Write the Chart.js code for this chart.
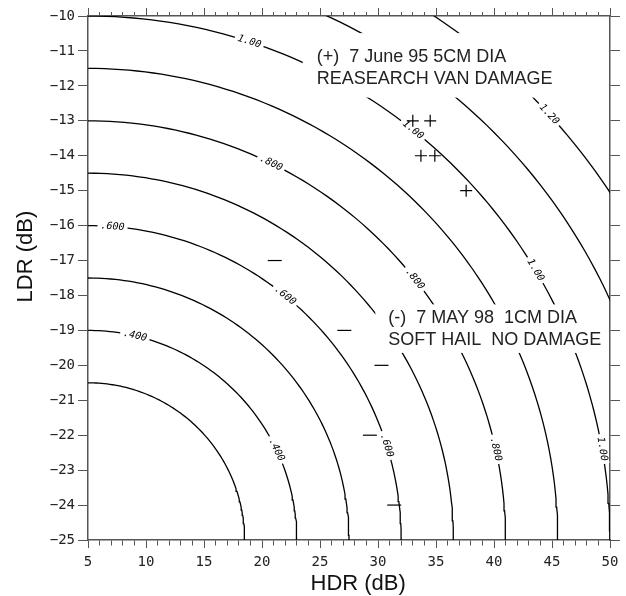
<!DOCTYPE html>
<html>
<head>
<meta charset="utf-8">
<script src="https://cdn.jsdelivr.net/npm/chart.js@4"></script>
<style>
  html, body { margin: 0; padding: 0; background: #fff; }
  #wrap { width: 626px; height: 596px; }
</style>
</head>
<body>
<div id="wrap"><canvas id="chart" width="626" height="596"></canvas></div>
<script>
// contour levels and where each one meets the bottom axis (LDR = -25) and the left axis (HDR = 5)
const levels = [0.3, 0.4, 0.5, 0.6, 0.7, 0.8, 0.9, 1.0, 1.1, 1.2];
const hdrIntercepts = [18.5, 23, 27.5, 32, 36.5, 41, 45.5, 50, 54.5, 59];
const ldrIntercepts = [-20.5, -19, -17.5, -16, -14.5, -13, -11.5, -10, -8.5, -7];
const originHdr = 5;
const originLdr = -25;

// inline contour labels: level and angle along the arc (0 = bottom axis, 90 = left axis)
const labelLevels = [0.4, 0.4, 0.6, 0.6, 0.6, 0.8, 0.8, 0.8, 1.0, 1.0, 1.0, 1.0, 1.2];
const labelAngles = [77, 25.5, 85.5, 51, 17.5, 64, 38.5, 12.5, 72, 51.5, 31, 10, 42.6];

// (+) 7 June 95, damaging hail
const plusHdr = [33, 34.5, 33.7, 34.9, 37.6];
const plusLdr = [-13, -13, -14, -14, -15];

// (-) 7 May 98, soft hail
const minusHdr = [21.1, 27.1, 30.3, 29.3, 31.4];
const minusLdr = [-17, -19, -20, -22, -24];

const plusNote = ['(+)  7 June 95 5CM DIA', 'REASEARCH VAN DAMAGE'];
const minusNote = ['(-)  7 MAY 98  1CM DIA', 'SOFT HAIL  NO DAMAGE'];

const tickFont = { family: '"DejaVu Sans Mono", monospace', size: 14 };
const titleFont = { family: '"Liberation Sans", Arial, sans-serif', size: 22, lineHeight: 1 };
const noteFont = '18px "Liberation Sans", Arial, sans-serif';
const axisGray = '#555';

function arcPoints(i) {
  const a = hdrIntercepts[i] - originHdr;
  const b = ldrIntercepts[i] - originLdr;
  const pts = [];
  for (let d = 0; d <= 90; d += 1) {
    const t = d * Math.PI / 180;
    pts.push({ x: originHdr + a * Math.cos(t), y: originLdr + b * Math.sin(t) });
  }
  return pts;
}

function labelText(v) {
  return v < 1 ? v.toFixed(3).slice(1) : v.toFixed(2);
}

const datasets = levels.map((lv, i) => ({
  label: String(lv),
  data: arcPoints(i),
  showLine: true,
  borderColor: '#000',
  borderWidth: 1.3,
  pointRadius: 0,
}));

datasets.push({
  label: 'minus',
  data: minusHdr.map((x, i) => ({ x, y: minusLdr[i] })),
  showLine: false,
  pointStyle: 'line',
  pointRadius: 7,
  borderColor: '#000',
  borderWidth: 1.2,
  order: -1,
});
datasets.push({
  label: 'plus',
  data: plusHdr.map((x, i) => ({ x, y: plusLdr[i] })),
  showLine: false,
  pointStyle: 'cross',
  pointRadius: 6,
  borderColor: '#000',
  borderWidth: 1.2,
  order: -1,
});

// text blocks: anchor in data units, white box padding in px [left, top, right, bottom]
const notes = [
  { lines: plusNote, hdr: 24.72, ldr: -11.32, pad: [14, 29, 8, 14] },
  { lines: minusNote, hdr: 30.89, ldr: -18.8, pad: [13, 19, 6, 8] },
];

const contourLabels = {
  id: 'contourLabels',
  afterDatasetDraw(chart, args) {
    if (args.index !== 0) return;
    const { ctx, scales } = chart;
    const xs = scales.x, ys = scales.y;
    ctx.save();

    // white boxes behind the two notes hide the contour lines there
    ctx.font = noteFont;
    ctx.fillStyle = '#fff';
    notes.forEach(n => {
      const x = xs.getPixelForValue(n.hdr);
      const y = ys.getPixelForValue(n.ldr);
      const w = Math.max(...n.lines.map(s => ctx.measureText(s).width));
      const h = (n.lines.length - 1) * 21.5;
      ctx.fillRect(x - n.pad[0], y - n.pad[1], w + n.pad[0] + n.pad[2], h + n.pad[1] + n.pad[3]);
    });

    ctx.font = 'italic 10px "DejaVu Sans Mono", monospace';
    ctx.textAlign = 'center';
    ctx.textBaseline = 'middle';
    labelLevels.forEach((lv, k) => {
      const i = levels.indexOf(lv);
      const a = hdrIntercepts[i] - originHdr;
      const b = ldrIntercepts[i] - originLdr;
      const at = deg => {
        const t = deg * Math.PI / 180;
        return [xs.getPixelForValue(originHdr + a * Math.cos(t)), ys.getPixelForValue(originLdr + b * Math.sin(t))];
      };
      const [px, py] = at(labelAngles[k]);
      const [x1, y1] = at(labelAngles[k] - 0.5);
      const [x2, y2] = at(labelAngles[k] + 0.5);
      let ang = Math.atan2(y2 - y1, x2 - x1);
      if (ang > Math.PI / 2) ang -= Math.PI;
      if (ang <= -Math.PI / 2) ang += Math.PI;
      const txt = labelText(lv);
      const w = ctx.measureText(txt).width + 6;
      ctx.save();
      ctx.translate(px, py);
      ctx.rotate(ang);
      ctx.fillStyle = '#fff';
      ctx.fillRect(-w / 2, -5, w, 10);
      ctx.fillStyle = '#000';
      ctx.fillText(txt, 0, 0);
      ctx.restore();
    });
    ctx.restore();
  },
  afterDraw(chart) {
    const { ctx, scales } = chart;
    ctx.save();
    ctx.font = noteFont;
    ctx.fillStyle = '#222';
    ctx.textAlign = 'left';
    ctx.textBaseline = 'alphabetic';
    notes.forEach(n => {
      const x = scales.x.getPixelForValue(n.hdr);
      const y = scales.y.getPixelForValue(n.ldr);
      n.lines.forEach((s, j) => ctx.fillText(s, x, y + j * 21.5));
    });
    ctx.restore();
  }
};

const minorDash = (len, top) => c => {
  if (c.tick && c.tick.value % 5 === 0) return [];
  return top ? [0, 8 - len, len, 30] : [len, 30];
};

new Chart(document.getElementById('chart'), {
  type: 'scatter',
  data: { datasets },
  options: {
    responsive: false,
    animation: false,
    devicePixelRatio: 1,
    layout: { padding: 0 },
    plugins: { legend: { display: false }, tooltip: { enabled: false } },
    scales: {
      x: {
        type: 'linear',
        position: 'bottom',
        min: 5,
        max: 50,
        afterFit: s => { s.height = 56; },
        border: { display: true, color: axisGray, width: 1.5 },
        grid: {
          drawOnChartArea: false,
          tickLength: 8,
          tickColor: axisGray,
          tickWidth: 1,
          tickBorderDash: minorDash(5, false),
        },
        ticks: {
          stepSize: 1,
          autoSkip: false,
          maxRotation: 0,
          padding: 6,
          color: '#222',
          font: tickFont,
          callback: v => (v % 5 === 0 ? String(v) : ''),
        },
        title: {
          display: true,
          text: '   HDR (dB)',
          color: '#111',
          font: titleFont,
          padding: { top: 0, bottom: 1 },
        },
      },
      x2: {
        type: 'linear',
        position: 'top',
        min: 5,
        max: 50,
        afterFit: s => { s.height = 16; },
        border: { display: true, color: axisGray, width: 1.5 },
        grid: {
          drawOnChartArea: false,
          tickLength: 8,
          tickColor: axisGray,
          tickWidth: 1,
          tickBorderDash: minorDash(4, true),
        },
        ticks: { stepSize: 1, autoSkip: false, maxRotation: 0, callback: () => '' },
      },
      y: {
        type: 'linear',
        position: 'left',
        min: -25,
        max: -10,
        afterFit: s => { s.width = 88; },
        border: { display: true, color: axisGray, width: 1.5 },
        grid: { drawOnChartArea: false, tickLength: 10, tickColor: axisGray, tickWidth: 1 },
        ticks: {
          stepSize: 1,
          autoSkip: false,
          padding: 3,
          color: '#222',
          font: tickFont,
          callback: v => String(v).replace('-', '\u2212'),
        },
        title: {
          display: true,
          text: '       LDR (dB)',
          color: '#111',
          font: titleFont,
          padding: { top: 15, bottom: 0 },
        },
      },
      y2: {
        type: 'linear',
        position: 'right',
        min: -25,
        max: -10,
        afterFit: s => { s.width = 16; },
        border: { display: true, color: axisGray, width: 1.5 },
        grid: { drawOnChartArea: false, tickLength: 10, tickColor: axisGray, tickWidth: 1 },
        ticks: { stepSize: 1, autoSkip: false, callback: () => '' },
      },
    },
  },
  plugins: [contourLabels],
});
</script>
</body>
</html>
